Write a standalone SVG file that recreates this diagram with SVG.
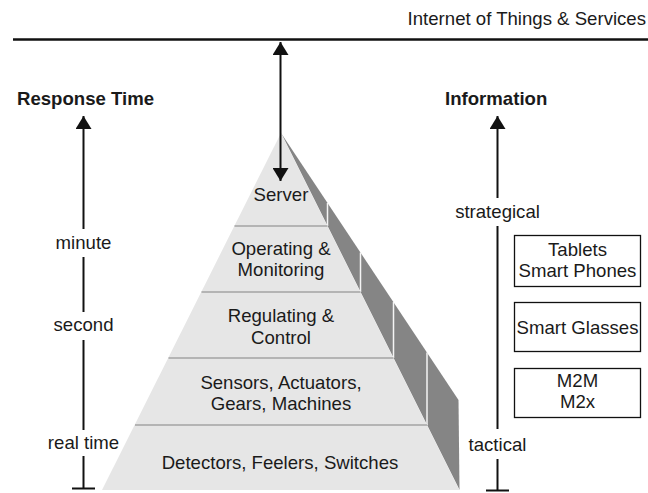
<svg xmlns="http://www.w3.org/2000/svg" width="648" height="493" viewBox="0 0 648 493">
  <defs>
    <style>
      text { font-family: "Liberation Sans", Arial, sans-serif; font-size: 18.6px; fill: #1a1a1a; }
      .bold { font-weight: bold; }
      .mid { text-anchor: middle; }
      .end { text-anchor: end; }
      .axis { stroke: #111; stroke-width: 2; fill: none; }
      .sep { stroke: #a3a3a3; stroke-width: 1.5; }
      .edge { stroke: #f4f4f4; stroke-width: 1.5; }
      .box { fill: #fff; stroke: #111; stroke-width: 1.3; }
    </style>
    <marker id="head" viewBox="0 0 13 16" refX="13" refY="8" markerWidth="13" markerHeight="16" markerUnits="userSpaceOnUse" orient="auto">
      <path d="M0,0 L13,8 L0,16 Z" fill="#111"/>
    </marker>
  </defs>

  <rect width="648" height="493" fill="#fff"/>

  <!-- top bus line and its label -->
  <g id="internet">
    <line x1="13" y1="39.5" x2="648" y2="39.5" stroke="#111" stroke-width="2.5"/>
    <text class="end" x="646" y="25">Internet of Things &amp; Services</text>
  </g>

  <!-- stepped pyramid -->
  <g id="pyramid">
    <polygon points="281,133 458.5,400 459.5,490" fill="#858585"/>
    <polygon points="281,133 102,490 459.5,490" fill="#e6e6e6"/>
    <line class="edge" x1="327.5" y1="203" x2="327.5" y2="226"/>
    <line class="edge" x1="360.5" y1="252.5" x2="360.5" y2="292"/>
    <line class="edge" x1="393.5" y1="302" x2="393.5" y2="358"/>
    <line class="edge" x1="427" y1="352.5" x2="427" y2="425"/>
    <line class="sep" x1="234.5" y1="226" x2="327.5" y2="226"/>
    <line class="sep" x1="201.5" y1="292" x2="360.5" y2="292"/>
    <line class="sep" x1="168.5" y1="358" x2="393.5" y2="358"/>
    <line class="sep" x1="135" y1="425" x2="427" y2="425"/>
  </g>

  <g id="level-server"><text class="mid" x="281" y="201">Server</text></g>
  <g id="level-operating">
    <text class="mid" x="281" y="255">Operating &amp;</text>
    <text class="mid" x="281" y="276">Monitoring</text>
  </g>
  <g id="level-regulating">
    <text class="mid" x="281" y="322">Regulating &amp;</text>
    <text class="mid" x="281" y="344">Control</text>
  </g>
  <g id="level-sensors">
    <text class="mid" x="281" y="389">Sensors, Actuators,</text>
    <text class="mid" x="281" y="410">Gears, Machines</text>
  </g>
  <g id="level-detectors"><text class="mid" x="280" y="469">Detectors, Feelers, Switches</text></g>

  <!-- device boxes -->
  <g id="box-tablets">
    <rect class="box" x="514.5" y="235.5" width="126" height="51"/>
    <text class="mid" x="577.5" y="256">Tablets</text>
    <text class="mid" x="577.5" y="277">Smart Phones</text>
  </g>
  <g id="box-glasses">
    <rect class="box" x="514.5" y="302.5" width="126" height="49"/>
    <text class="mid" x="577.5" y="334">Smart Glasses</text>
  </g>
  <g id="box-m2m">
    <rect class="box" x="514.5" y="368.5" width="126" height="49"/>
    <text class="mid" x="577.5" y="387">M2M</text>
    <text class="mid" x="577.5" y="408">M2x</text>
  </g>

  <!-- axis titles and scale labels -->
  <g id="response-time">
    <text class="bold" x="17" y="105">Response Time</text>
    <text class="mid" x="83.5" y="249">minute</text>
    <text class="mid" x="83.5" y="331">second</text>
    <text class="mid" x="83.5" y="449">real time</text>
  </g>
  <g id="information">
    <text class="bold" x="445" y="105">Information</text>
    <text class="mid" x="497.5" y="218">strategical</text>
    <text class="mid" x="497.5" y="451">tactical</text>
  </g>

  <!-- connectors -->
  <g id="connectors">
    <!-- response time axis -->
    <line class="axis" x1="83.5" y1="488" x2="83.5" y2="456"/>
    <line class="axis" x1="83.5" y1="430" x2="83.5" y2="340"/>
    <line class="axis" x1="83.5" y1="312" x2="83.5" y2="257"/>
    <line class="axis" x1="83.5" y1="229" x2="83.5" y2="116" marker-end="url(#head)"/>
    <line class="axis" x1="72" y1="488.5" x2="95" y2="488.5"/>
    <!-- information axis -->
    <line class="axis" x1="497.5" y1="490" x2="497.5" y2="459"/>
    <line class="axis" x1="497.5" y1="429" x2="497.5" y2="226"/>
    <line class="axis" x1="497.5" y1="198" x2="497.5" y2="116" marker-end="url(#head)"/>
    <line class="axis" x1="486" y1="490.5" x2="509" y2="490.5"/>
    <!-- server to internet -->
    <line class="axis" x1="280.5" y1="110" x2="280.5" y2="42" marker-end="url(#head)"/>
    <line class="axis" x1="280.5" y1="110" x2="280.5" y2="181" marker-end="url(#head)"/>
  </g>
</svg>
